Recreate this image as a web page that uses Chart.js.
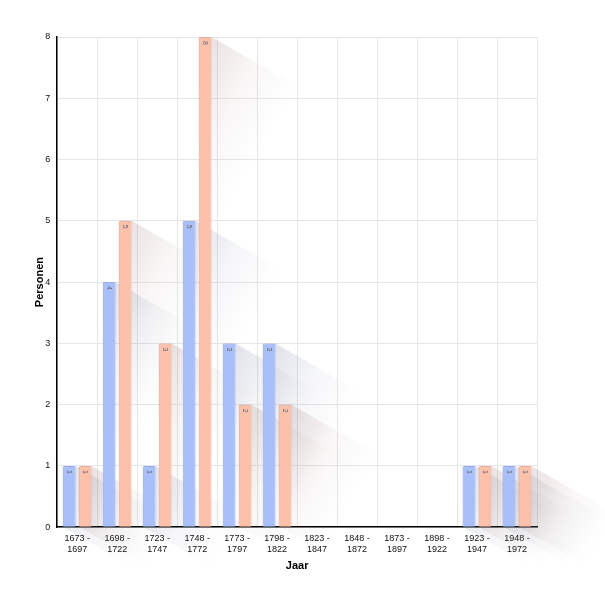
<!DOCTYPE html>
<html>
<head>
<meta charset="utf-8">
<script src="https://cdn.jsdelivr.net/npm/chart.js@4"></script>
<style>
  html, body { margin: 0; padding: 0; background: #fff; }
  #wrap { width: 605px; height: 601px; }
</style>
</head>
<body>
<div id="wrap"><canvas id="jaarChart"></canvas></div>
<script>
var periods = [
    ['1673 -', '1697'], ['1698 -', '1722'], ['1723 -', '1747'], ['1748 -', '1772'],
    ['1773 -', '1797'], ['1798 -', '1822'], ['1823 -', '1847'], ['1848 -', '1872'],
    ['1873 -', '1897'], ['1898 -', '1922'], ['1923 -', '1947'], ['1948 -', '1972']
];
var mannen = [1, 4, 1, 5, 3, 3, 0, 0, 0, 0, 1, 1];
var vrouwen = [1, 5, 3, 8, 2, 2, 0, 0, 0, 0, 1, 1];

// long diagonal shadow behind every bar
var longShadow = {
    id: 'longShadow',
    beforeDatasetsDraw: function (chart) {
        var ctx = chart.ctx;
        var dx = 85, dy = 49;
        chart.data.datasets.forEach(function (ds, i) {
            var meta = chart.getDatasetMeta(i);
            var tint = i === 0 ? '90,100,140' : '140,100,95';
            meta.data.forEach(function (bar) {
                if (bar.base - bar.y < 1) return;
                var l = bar.x - bar.width / 2, r = bar.x + bar.width / 2;
                var t = bar.y, b = bar.base;
                var g = ctx.createLinearGradient(r, t, r + dx, t + dy);
                g.addColorStop(0, 'rgba(' + tint + ',0.19)');
                g.addColorStop(0.5, 'rgba(' + tint + ',0.06)');
                g.addColorStop(1, 'rgba(' + tint + ',0)');
                ctx.save();
                ctx.beginPath();
                ctx.moveTo(l, t);
                ctx.lineTo(r, t);
                ctx.lineTo(r + dx, t + dy);
                ctx.lineTo(r + dx, b + dy);
                ctx.lineTo(l + dx, b + dy);
                ctx.lineTo(l, b);
                ctx.closePath();
                ctx.fillStyle = g;
                ctx.fill();
                ctx.restore();
            });
        });
    },
    afterDatasetsDraw: function (chart) {
        var ctx = chart.ctx;
        chart.data.datasets.forEach(function (ds, i) {
            var meta = chart.getDatasetMeta(i);
            meta.data.forEach(function (bar, j) {
                var v = ds.data[j];
                if (!v) return;
                ctx.save();
                ctx.translate(bar.x, bar.y + 4);
                ctx.rotate(Math.PI / 2);
                ctx.font = '7px Arial, "Liberation Sans", sans-serif';
                ctx.fillStyle = '#666';
                ctx.textAlign = 'left';
                ctx.textBaseline = 'middle';
                ctx.fillText(String(v), 0, 0);
                ctx.restore();
            });
        });
    }
};

var ctx = document.getElementById('jaarChart').getContext('2d');
var jaarChart = new Chart(ctx, {
    type: 'bar',
    plugins: [longShadow],
    data: {
        labels: periods,
        datasets: [{
            label: 'Mannen',
            data: mannen,
            backgroundColor: '#a9bff9',
            borderColor: '#97acec',
            borderWidth: 1,
            borderRadius: 2,
            borderSkipped: 'bottom'
        }, {
            label: 'Vrouwen',
            data: vrouwen,
            backgroundColor: '#fcc1aa',
            borderColor: '#ecad97',
            borderWidth: 1,
            borderRadius: 2,
            borderSkipped: 'bottom'
        }]
    },
    options: {
        responsive: true,
        maintainAspectRatio: false,
        animation: false,
        barPercentage: 0.8,
        categoryPercentage: 0.8,
        layout: { padding: { top: 37, right: 68, left: 33, bottom: 28 } },
        plugins: {
            legend: { display: false },
            tooltip: { enabled: false }
        },
        scales: {
            x: {
                grid: { color: '#e6e6e6', drawTicks: false },
                border: { color: '#000', width: 1.5 },
                ticks: {
                    color: '#111',
                    padding: 6,
                    maxRotation: 0,
                    autoSkip: false,
                    font: { size: 9, family: 'Arial, "Liberation Sans", sans-serif' }
                },
                title: {
                    display: true,
                    text: 'Jaar',
                    color: '#000',
                    padding: { top: -1, bottom: 0 },
                    font: { size: 11, weight: 'bold', family: 'Arial, "Liberation Sans", sans-serif' }
                }
            },
            y: {
                min: 0,
                max: 8,
                grid: { color: '#e6e6e6', drawTicks: false },
                border: { color: '#000', width: 1.5 },
                ticks: {
                    stepSize: 1,
                    color: '#111',
                    padding: 7,
                    font: { size: 9, family: 'Arial, "Liberation Sans", sans-serif' }
                },
                title: {
                    display: true,
                    text: 'Personen',
                    color: '#000',
                    padding: { top: 0, bottom: -8 },
                    font: { size: 11, weight: 'bold', family: 'Arial, "Liberation Sans", sans-serif' }
                }
            }
        }
    }
});
</script>
</body>
</html>
